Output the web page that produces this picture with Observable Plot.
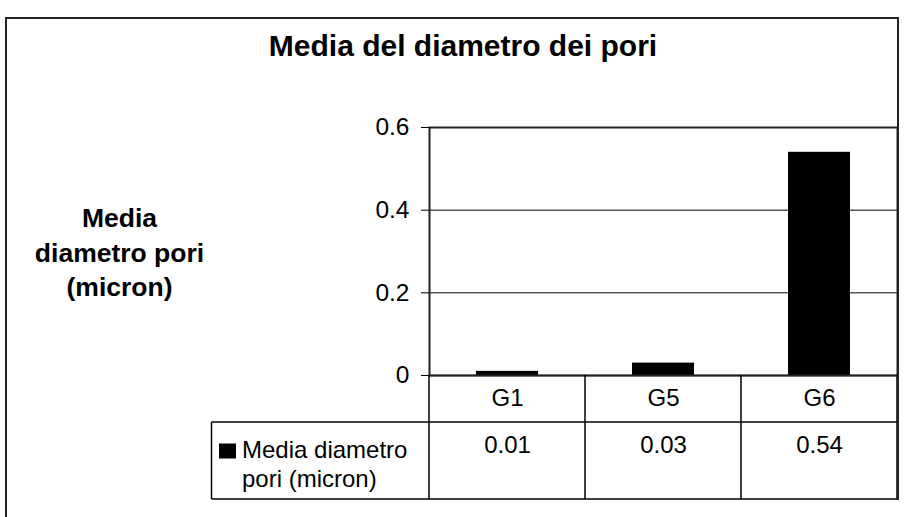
<!DOCTYPE html>
<html><head><meta charset="utf-8">
<script src="https://cdn.jsdelivr.net/npm/d3@7"></script>
<script src="https://cdn.jsdelivr.net/npm/@observablehq/plot@0.6"></script>
<style>
body{margin:0;background:#fff;}
#wrap{position:relative;width:907px;height:517px;overflow:hidden;font-family:"Liberation Sans",Arial,sans-serif;background:#fff;}
#title{height:80px;box-sizing:border-box;padding-top:26px;padding-left:19px;text-align:center;font-weight:bold;font-size:30px;line-height:40px;color:#000;}
#frameL{position:absolute;left:5px;top:17px;width:892px;height:540px;border-left:2px solid #222;border-top:2px solid #222;pointer-events:none;}
#frameR{position:absolute;left:897px;top:17px;width:2px;height:483px;background:#222;pointer-events:none;}
</style></head>
<body><div id="wrap"><div id="title">Media del diametro dei pori</div><div id="chart"></div><div id="frameL"></div><div id="frameR"></div></div>
<script>
const categories = ["G1", "G5", "G6"];
const values = [0.01, 0.03, 0.54];
const yTicks = [0, 0.2, 0.4, 0.6];
const legendLines = ["Media diametro", "pori (micron)"];
const yTitle = "Media\ndiametro pori\n(micron)";

const data = categories.map((c, i) => ({cat: c, value: values[i]}));
const H = 437;
const chart = Plot.plot({
  width: 907, height: H,
  marginLeft: 429, marginRight: 10, marginTop: 47, marginBottom: 142,
  style: {fontFamily: "Liberation Sans, Arial, sans-serif", fontSize: "24px", color: "#000", background: "transparent"},
  x: {domain: categories, paddingInner: 0.6, paddingOuter: 0.3, label: null},
  y: {domain: [0, 0.6], label: null},
  marks: [
    Plot.gridY(yTicks.slice(1), {stroke: "#000", strokeOpacity: 1, strokeWidth: 1}),
    Plot.barY(data, {x: "cat", y: "value", fill: "#000"}),
    Plot.ruleY([0], {stroke: "#000", strokeWidth: 1.5}),
    Plot.frame({stroke: "#222", strokeWidth: 2}),
    Plot.axisY(yTicks, {tickSize: 8, tickPadding: 12, tickFormat: d => String(d), label: null, fontSize: 24.5}),
    Plot.axisX({tickSize: 0, tickPadding: 13, label: null, fontSize: 24}),
    Plot.text(data, {x: "cat", text: d => d.value.toFixed(2), frameAnchor: "bottom", lineAnchor: "middle", dy: 69.5, fontSize: 24}),
    Plot.text([yTitle], {frameAnchor: "left", lineAnchor: "middle", dx: -310, dy: -1, fontWeight: "bold", fontSize: 26.5, lineHeight: 1.3, textAnchor: "middle"})
  ]
});
document.getElementById("chart").appendChild(chart);

// data table lines below the plot, positioned from the Plot scales
const sx = chart.scale("x"), sy = chart.scale("y");
const step = sx.step, bw = sx.bandwidth;
const y0 = sy.apply(0);
const edges = categories.map(c => sx.apply(c) - (step - bw) / 2);
edges.push(edges[edges.length - 1] + step);
const rowCat = y0 + 47, rowVal = y0 + 124, tableLeft = 211.5;
const svg = d3.select(chart.tagName.toLowerCase() === "svg" ? chart : chart.querySelector("svg"));
const g = svg.append("g").attr("stroke", "#000").attr("stroke-width", 1.5);
g.append("line").attr("x1", tableLeft).attr("x2", edges[edges.length - 1]).attr("y1", rowCat).attr("y2", rowCat);
g.append("line").attr("x1", tableLeft).attr("x2", edges[edges.length - 1]).attr("y1", rowVal).attr("y2", rowVal);
g.append("line").attr("x1", tableLeft).attr("x2", tableLeft).attr("y1", rowCat).attr("y2", rowVal);
edges.forEach(e => g.append("line").attr("x1", e).attr("x2", e).attr("y1", y0).attr("y2", rowVal));
// legend key
svg.append("rect").attr("x", 219).attr("y", y0 + 68.5).attr("width", 17).attr("height", 15).attr("fill", "#000");
const lt = svg.append("text").attr("font-size", 24).attr("fill", "#000").attr("text-anchor", "start")
  .attr("font-family", "Liberation Sans, Arial, sans-serif");
legendLines.forEach((t, i) => lt.append("tspan").attr("x", 242).attr("y", y0 + 82.7 + i * 29).text(t));
</script>
</body></html>
